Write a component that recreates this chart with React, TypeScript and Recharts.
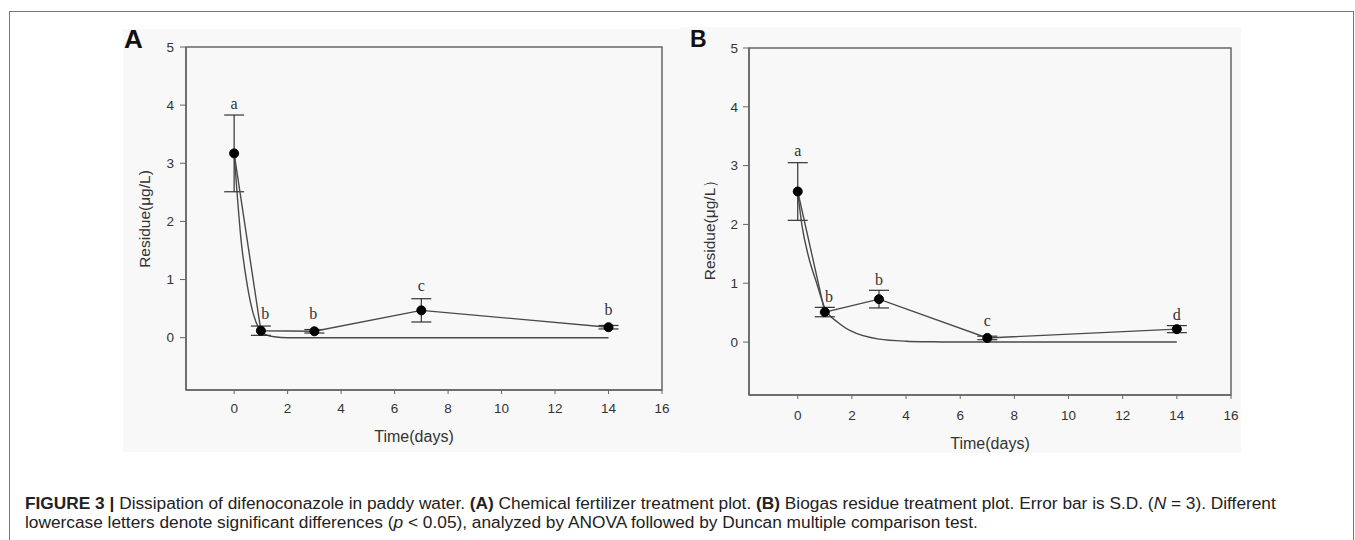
import React from "react";
import {
  ComposedChart,
  Line,
  Scatter,
  XAxis,
  YAxis,
  ErrorBar,
  ReferenceArea,
} from "recharts";

// sampling days
const days = [0, 1, 3, 7, 14];

// panel A: chemical fertilizer plot
const residueA = [3.17, 0.12, 0.11, 0.47, 0.18];
const sdA = [0.66, 0.08, 0.03, 0.2, 0.03];
const fitDaysA = [0, 0.1, 0.25, 0.5, 0.7, 0.9, 1, 1.2, 1.5, 2, 14];
const fitA = [3.17, 2.55, 1.72, 0.88, 0.44, 0.18, 0.1, 0.05, 0.015, 0, 0];
const lettersA = ["a", "b", "b", "c", "b"];
const letterDaysA = [0, 1.16, 2.96, 7, 14];
const letterYA = [4.03, 0.41, 0.41, 0.9, 0.48];

// panel B: biogas residue plot
const residueB = [2.56, 0.51, 0.73, 0.07, 0.22];
const sdB = [0.49, 0.08, 0.15, 0.03, 0.06];
const fitDaysB = [0, 0.15, 0.4, 0.7, 1, 1.5, 2, 3, 4, 5, 6, 14];
const fitB = [2.56, 2.0, 1.45, 1.0, 0.58, 0.33, 0.18, 0.05, 0.015, 0.005, 0, 0];
const lettersB = ["a", "b", "b", "c", "d"];
const letterDaysB = [0, 1.15, 3, 7, 14];
const letterYB = [3.25, 0.78, 1.07, 0.36, 0.47];

const xTicks = [0, 2, 4, 6, 8, 10, 12, 14, 16];
const yTicks = [0, 1, 2, 3, 4, 5];
const xDomain: [number, number] = [-1.8, 16];
const yDomain: [number, number] = [-0.9, 5];

const AXIS = "#666";
const INK = "#4a4a4a";
const SANS = "'Liberation Sans', Arial, sans-serif";
const SERIF = "'Liberation Serif', 'Times New Roman', serif";

const toPoints = (xs: number[], ys: number[], sd?: number[]) =>
  xs.map((t, i) => ({ t, y: ys[i], sd: sd ? sd[i] : 0 }));

const letterShape = (props: any) => (
  <text
    x={props.cx}
    y={props.cy}
    textAnchor="middle"
    dominantBaseline="central"
    fontFamily={SERIF}
    fontSize={16}
    fill="#333"
  >
    {props.payload.label}
  </text>
);

type PanelProps = {
  width: number;
  height: number;
  margin: { top: number; right: number; left: number; bottom: number };
  yWidth: number;
  xHeight: number;
  xTickMargin: number;
  yTickMargin: number;
  values: number[];
  sd: number[];
  fitDays: number[];
  fit: number[];
  letters: string[];
  letterDays: number[];
  letterY: number[];
};

function Panel(p: PanelProps) {
  const measured = toPoints(days, p.values, p.sd);
  const fitted = toPoints(p.fitDays, p.fit);
  const marks = p.letters.map((label, i) => ({ t: p.letterDays[i], y: p.letterY[i], label }));
  const tick = { fill: "#333", fontSize: 13.5, fontFamily: SANS };

  return (
    <ComposedChart width={p.width} height={p.height} margin={p.margin}>
      <XAxis
        dataKey="t"
        type="number"
        domain={xDomain}
        ticks={xTicks}
        allowDataOverflow
        height={p.xHeight}
        tick={tick}
        tickSize={4}
        tickMargin={p.xTickMargin}
        tickLine={{ stroke: AXIS }}
        axisLine={{ stroke: AXIS, strokeWidth: 1.5 }}
      />
      <YAxis
        type="number"
        domain={yDomain}
        ticks={yTicks}
        allowDataOverflow
        width={p.yWidth}
        tick={tick}
        tickSize={6}
        tickMargin={p.yTickMargin}
        tickLine={{ stroke: AXIS }}
        axisLine={{ stroke: AXIS, strokeWidth: 1.5 }}
      />
      <ReferenceArea
        x1={xDomain[0]}
        x2={xDomain[1]}
        y1={yDomain[0]}
        y2={yDomain[1]}
        fill="none"
        stroke={AXIS}
        strokeWidth={1.5}
      />
      <Line
        data={fitted}
        dataKey="y"
        type="monotone"
        stroke={INK}
        strokeWidth={1.4}
        dot={false}
        isAnimationActive={false}
      />
      <Line
        data={measured}
        dataKey="y"
        type="linear"
        stroke={INK}
        strokeWidth={1.4}
        dot={{ r: 4.5, fill: "#000", stroke: "#000", strokeWidth: 1 }}
        isAnimationActive={false}
      >
        <ErrorBar dataKey="sd" width={10} stroke="#333" strokeWidth={1.2} direction="y" />
      </Line>
      <Scatter data={marks} dataKey="y" shape={letterShape} isAnimationActive={false} />
    </ComposedChart>
  );
}

const abs = (left: number, top: number): React.CSSProperties => ({ position: "absolute", left, top });

export default function App() {
  return (
    <div
      style={{
        position: "fixed",
        left: 0,
        top: 0,
        width: 1355,
        height: 540,
        overflow: "hidden",
        background: "#fff",
        fontFamily: SANS,
      }}
    >
      <div style={{ ...abs(9, 11), width: 1343, height: 600, border: "1px solid #777" }} />
      <div style={{ ...abs(123, 29), width: 677, height: 423, background: "#f8f8f8" }} />
      <div style={{ ...abs(680, 27), width: 561, height: 426, background: "#f8f8f8" }} />

      <div style={abs(123, 29)}>
        <Panel
          width={677}
          height={423}
          margin={{ top: 18, right: 138, left: 0, bottom: 0 }}
          yWidth={63}
          xHeight={62}
          xTickMargin={9}
          yTickMargin={6}
          values={residueA}
          sd={sdA}
          fitDays={fitDaysA}
          fit={fitA}
          letters={lettersA}
          letterDays={letterDaysA}
          letterY={letterYA}
        />
      </div>
      <div style={abs(680, 27)}>
        <Panel
          width={561}
          height={426}
          margin={{ top: 21, right: 10, left: 0, bottom: 0 }}
          yWidth={69}
          xHeight={58}
          xTickMargin={11}
          yTickMargin={5}
          values={residueB}
          sd={sdB}
          fitDays={fitDaysB}
          fit={fitB}
          letters={lettersB}
          letterDays={letterDaysB}
          letterY={letterYB}
        />
      </div>

      {/* panel letters */}
      <div style={{ ...abs(124, 26), fontSize: 26, lineHeight: "26px", fontWeight: 700, color: "#111" }}>A</div>
      <div style={{ ...abs(690, 28), fontSize: 23, lineHeight: "23px", fontWeight: 700, color: "#111" }}>B</div>

      {/* axis titles */}
      <div
        style={{
          ...abs(145, 219),
          transform: "translate(-50%, -50%) rotate(-90deg)",
          whiteSpace: "nowrap",
          fontSize: 15.5,
          color: "#333",
        }}
      >
        Residue(μg/L)
      </div>
      <div
        style={{
          ...abs(710, 226),
          transform: "translate(-50%, -50%) rotate(-90deg)",
          whiteSpace: "nowrap",
          fontSize: 15.5,
          color: "#333",
        }}
      >
        Residue(μg/L）
      </div>
      <div style={{ ...abs(414, 437), transform: "translate(-50%, -50%)", whiteSpace: "nowrap", fontSize: 16, color: "#333" }}>
        Time(days)
      </div>
      <div style={{ ...abs(990, 444), transform: "translate(-50%, -50%)", whiteSpace: "nowrap", fontSize: 16, color: "#333" }}>
        Time(days)
      </div>

      {/* caption */}
      <div
        style={{
          ...abs(25, 494),
          fontSize: 17.3,
          lineHeight: "19px",
          color: "#222",
          whiteSpace: "nowrap",
        }}
      >
        <b>FIGURE 3 |</b> Dissipation of difenoconazole in paddy water. <b>(A)</b> Chemical fertilizer treatment plot.{" "}
        <b>(B)</b> Biogas residue treatment plot. Error bar is S.D. (<i>N</i> = 3). Different
        <br />
        lowercase letters denote significant differences (<i>p</i> &lt; 0.05), analyzed by ANOVA followed by Duncan
        multiple comparison test.
      </div>
    </div>
  );
}
